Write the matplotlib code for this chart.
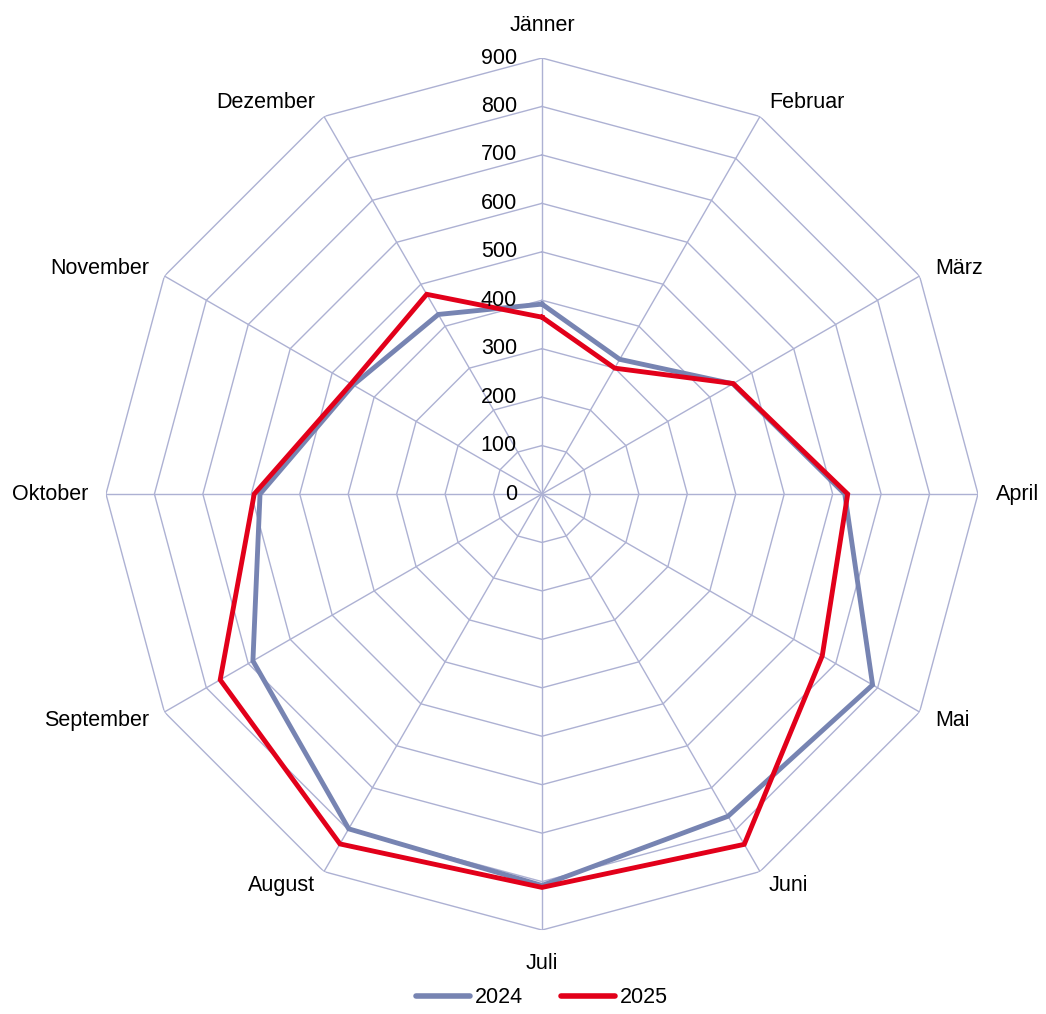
import numpy as np
import matplotlib
matplotlib.use("Agg")
import matplotlib.pyplot as plt
from matplotlib.transforms import offset_copy
from matplotlib.lines import Line2D

months = ["Jänner", "Februar", "März", "April", "Mai", "Juni",
          "Juli", "August", "September", "Oktober", "November", "Dezember"]
values_2024 = [392, 321, 455, 625, 788, 768, 808, 798, 689, 582, 450, 428]
values_2025 = [365, 300, 456, 631, 668, 835, 812, 834, 767, 594, 455, 476]
ticks = [0, 100, 200, 300, 400, 500, 600, 700, 800, 900]
series_names = ["2024", "2025"]

FAM = ["Liberation Sans Narrow", "Liberation Sans", "DejaVu Sans"]
plt.rcParams["font.family"] = FAM
FS = 15.5

GRID = "#ADB1D3"
C2024 = "#7784B2"
C2025 = "#E2001A"

fig = plt.figure(figsize=(10.46, 10.14), dpi=100)
ax = fig.add_axes([0.1013, 0.0828, 0.8337, 0.86], projection="polar")
ax.set_theta_zero_location("N")
ax.set_theta_direction(-1)
ax.set_ylim(0, 900)
ax.grid(False)
ax.spines["polar"].set_visible(False)
ax.set_xticks([])
ax.set_yticks([])
ax.patch.set_alpha(0)

n = len(months)
theta = np.arange(n) * 2 * np.pi / n
theta_closed = np.append(theta, theta[0])

# polygon grid
for t in ticks[1:]:
    ax.plot(theta_closed, [t] * (n + 1), color=GRID, lw=1.0, zorder=1)
# spokes
for th in theta:
    ax.plot([th, th], [0, ticks[-1]], color=GRID, lw=1.0, zorder=1)

# series
for vals, col, name in [(values_2024, C2024, series_names[0]),
                        (values_2025, C2025, series_names[1])]:
    ax.plot(theta_closed, list(vals) + [vals[0]], color=col, lw=3.5,
            solid_joinstyle="miter", zorder=3, label=name)

# radial tick labels
tr = offset_copy(ax.transData, fig=fig, x=-25, y=0, units="dots")
for t in ticks:
    ax.text(0, t, str(t), transform=tr, ha="right", va="center",
            fontsize=FS, color="black", zorder=4)

# category labels
for th, m in zip(theta, months):
    s, c = np.sin(th), np.cos(th)
    if abs(s) < 0.01:
        ha = "center"
    elif s > 0:
        ha = "left"
    else:
        ha = "right"
    dx = 18 * s
    dy = 16 * c
    if abs(s) < 0.01:
        dy = 33 * np.sign(c)
    trl = offset_copy(ax.transData, fig=fig, x=dx, y=dy, units="dots")
    ax.text(th, ticks[-1], m, transform=trl, ha=ha, va="center",
            fontsize=FS, color="black")

handles = [Line2D([], [], color=C2024, lw=4, solid_capstyle="round"),
           Line2D([], [], color=C2025, lw=4, solid_capstyle="round")]
fig.legend(handles, series_names, loc="center", bbox_to_anchor=(0.518, 0.016),
           ncol=2, frameon=False, fontsize=FS, handlelength=2.5,
           handletextpad=0.2, columnspacing=1.8)

fig.savefig("out.png", dpi=100)
